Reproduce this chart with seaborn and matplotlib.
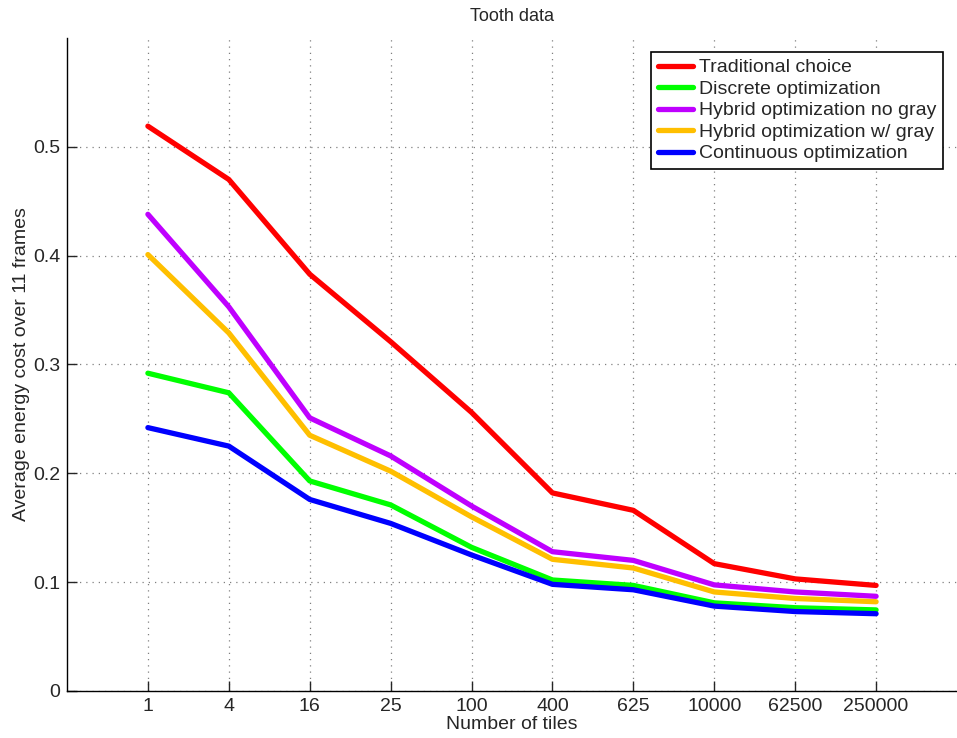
import numpy as np
import pandas as pd
import matplotlib
matplotlib.use("Agg")
import matplotlib.pyplot as plt
import seaborn as sns

# Datos
tiles = ["1", "4", "16", "25", "100", "400", "625", "10000", "62500", "250000"]
series = ["Traditional choice", "Discrete optimization", "Hybrid optimization no gray",
          "Hybrid optimization w/ gray", "Continuous optimization"]
traditional = [0.519, 0.470, 0.383, 0.321, 0.256, 0.182, 0.166, 0.117, 0.103, 0.097]
discrete = [0.292, 0.274, 0.193, 0.171, 0.132, 0.102, 0.097, 0.081, 0.0765, 0.0745]
hybrid_no_gray = [0.438, 0.353, 0.251, 0.216, 0.170, 0.128, 0.120, 0.0975, 0.091, 0.087]
hybrid_gray = [0.401, 0.329, 0.235, 0.202, 0.160, 0.121, 0.113, 0.091, 0.085, 0.082]
continuous = [0.242, 0.225, 0.176, 0.154, 0.125, 0.098, 0.093, 0.078, 0.073, 0.071]
colors = ["#FF0000", "#00FF00", "#BF00FF", "#FFBF00", "#0000FF"]

values = [traditional, discrete, hybrid_no_gray, hybrid_gray, continuous]
pos = np.arange(1, len(tiles) + 1)
df = pd.concat([pd.DataFrame({"pos": pos, "cost": v, "method": s})
                for s, v in zip(series, values)], ignore_index=True)

sns.set_style("ticks")
plt.rcParams["font.family"] = ["Liberation Sans", "DejaVu Sans"]
fs = 14

fig = plt.figure(figsize=(9.57, 7.38), dpi=100)
ax = fig.add_axes([0.070, 0.0637, 0.930, 0.8848])

sns.lineplot(data=df, x="pos", y="cost", hue="method", hue_order=series,
             palette=dict(zip(series, colors)), linewidth=3.8, ax=ax,
             sort=False, estimator=None)

ax.set_xlim(0, 11)
ax.set_ylim(0, 0.6)
ax.set_xticks(pos)
ax.set_xticklabels(tiles)
ax.set_yticks([0, 0.1, 0.2, 0.3, 0.4, 0.5])
ax.set_yticklabels(["0", "0.1", "0.2", "0.3", "0.4", "0.5"])
ax.tick_params(direction="in", length=7, width=1, labelsize=fs, pad=5)
ax.grid(True, linestyle=(0, (1, 4)), color="#808080", linewidth=0.9)

for side in ["top", "right"]:
    ax.spines[side].set_visible(False)
for side in ["left", "bottom"]:
    ax.spines[side].set_linewidth(1.0)
    ax.spines[side].set_color("black")

ax.set_title("Tooth data", fontsize=13, pad=12)
ax.set_xlabel("Number of tiles", fontsize=fs, labelpad=1)
ax.set_ylabel("Average energy cost over 11 frames", fontsize=fs, labelpad=2)

leg = ax.legend(loc="upper right", bbox_to_anchor=(1.0, 1.0), fontsize=fs,
                frameon=True, fancybox=False, handlelength=1.8, handletextpad=0.3,
                labelspacing=0.2, borderpad=0.35, borderaxespad=0.72)
leg.get_frame().set_edgecolor("black")
leg.get_frame().set_linewidth(1.2)
leg.get_frame().set_alpha(1)

fig.savefig("out.png", dpi=100)
